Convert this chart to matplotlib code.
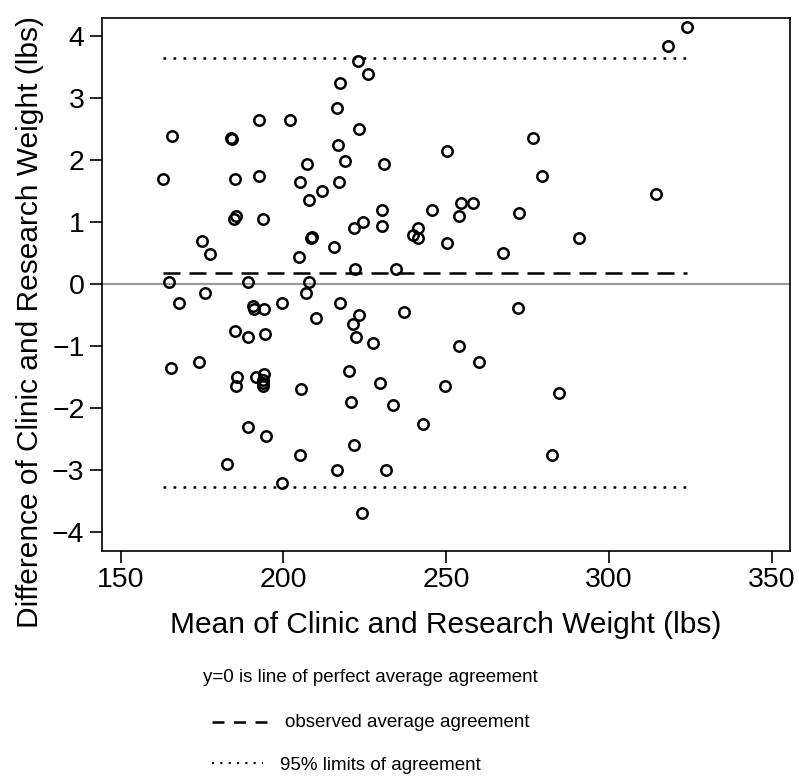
import matplotlib
matplotlib.use('Agg')
import matplotlib.pyplot as plt
from matplotlib.lines import Line2D
import numpy as np

plt.rcParams['font.family'] = ['Liberation Sans', 'DejaVu Sans']

# Mean of clinic and research weight (lbs)
mean_wt = [
    223.0, 226.0, 217.5, 216.5, 192.6, 202.1, 165.7, 183.9, 184.3, 223.2,
    216.8, 219.0, 207.2, 230.9, 250.2, 162.9, 185.1, 192.4, 205.1, 217.1,
    211.8, 207.9, 185.4, 184.8, 193.8, 230.4, 245.7, 230.4, 224.6, 221.8,
    239.8, 241.5, 241.5, 250.3, 175.0, 177.5, 208.6, 208.8, 215.6, 204.7,
    221.9, 234.7, 164.8, 189.1, 207.9, 324.0, 318.1, 276.8, 279.5, 314.6,
    254.5, 258.3, 253.8, 272.4, 290.7, 267.6,
    167.8, 175.8, 190.7, 191.0, 194.1, 199.7, 207.0, 217.3, 210.0, 223.2,
    221.3, 237.2, 185.2, 189.2, 194.3, 222.3, 227.5, 253.8, 165.6, 174.0,
    185.9, 185.3, 191.5, 194.1, 193.7, 193.7, 193.7, 205.5, 220.2, 229.7,
    220.8, 233.7, 249.6, 189.0, 194.7, 243.0, 182.7, 205.2, 221.8, 216.5,
    231.5, 199.5, 224.3, 272.2, 260.0, 284.8, 282.5,
]
# Difference of clinic and research weight (lbs)
diff_wt = [
    3.60, 3.39, 3.24, 2.84, 2.65, 2.65, 2.39, 2.35, 2.34, 2.50,
    2.24, 1.99, 1.94, 1.93, 2.15, 1.70, 1.70, 1.74, 1.65, 1.65,
    1.50, 1.35, 1.10, 1.05, 1.05, 1.20, 1.20, 0.94, 1.00, 0.90,
    0.79, 0.90, 0.74, 0.66, 0.70, 0.49, 0.74, 0.76, 0.59, 0.44,
    0.245, 0.245, 0.04, 0.04, 0.04, 4.14, 3.84, 2.35, 1.74, 1.45,
    1.30, 1.30, 1.10, 1.15, 0.74, 0.50,
    -0.30, -0.15, -0.35, -0.40, -0.40, -0.30, -0.15, -0.30, -0.55, -0.50,
    -0.65, -0.45, -0.75, -0.85, -0.80, -0.85, -0.95, -1.00, -1.35, -1.25,
    -1.50, -1.65, -1.50, -1.45, -1.55, -1.59, -1.65, -1.70, -1.40, -1.60,
    -1.90, -1.95, -1.65, -2.30, -2.45, -2.25, -2.90, -2.75, -2.60, -3.00,
    -3.00, -3.20, -3.69, -0.39, -1.25, -1.75, -2.75,
]

mean_diff = 0.185
upper_loa = 3.64
lower_loa = -3.27
line_x = [162.9, 324.0]

x_ticks = [150, 200, 250, 300, 350]
y_ticks = [-4, -3, -2, -1, 0, 1, 2, 3, 4]

fig = plt.figure(figsize=(7.99, 7.77), dpi=100)
ax = fig.add_axes([0.1273, 0.2912, 0.8614, 0.6852])

ax.axhline(0, color='#9a9a9a', lw=1.6, zorder=1)
ax.plot(line_x, [mean_diff, mean_diff], color='black', lw=1.8,
        linestyle=(0, (6.8, 3.6)))
ax.plot(line_x, [upper_loa, upper_loa], color='black', lw=1.8,
        linestyle=(0, (1.1, 2.9)))
ax.plot(line_x, [lower_loa, lower_loa], color='black', lw=1.8,
        linestyle=(0, (1.1, 2.9)))
ax.plot(mean_wt, diff_wt, 'o', mfc='none', mec='black', ms=7.5, mew=1.8)

ax.set_xlim(144.2, 355.6)
ax.set_ylim(-4.3, 4.285)
ax.set_xticks(x_ticks)
ax.set_yticks(y_ticks)
ax.set_yticklabels(['\u22124', '\u22123', '\u22122', '\u22121', '0', '1', '2', '3', '4'])
ax.tick_params(labelsize=20.5, length=8.4, width=1.2, pad=4)
ax.tick_params(axis='x', pad=3)
for s in ax.spines.values():
    s.set_linewidth(1.2)

ax.set_xlabel('Mean of Clinic and Research Weight (lbs)', fontsize=21.5, labelpad=13)
ax.set_ylabel('Difference of Clinic and Research Weight (lbs)', fontsize=21.5)
ax.yaxis.set_label_coords(-0.084, 0.43)

fig.text(0.254, 0.1226, 'y=0 is line of perfect average agreement', fontsize=13.5,
         va='baseline', ha='left')

# legend-style key below the plot
fig.add_artist(Line2D([212 / 799, 267 / 799], [0.0712, 0.0712], transform=fig.transFigure,
                      color='black', lw=1.8, linestyle=(0, (4.8, 3.8))))
fig.text(285 / 799, 0.0647, 'observed average agreement', fontsize=13.5, va='baseline')
fig.add_artist(Line2D([212 / 799, 263 / 799], [0.0176, 0.0176], transform=fig.transFigure,
                      color='black', lw=1.5, linestyle=(0, (1.0, 3.0))))
fig.text(280 / 799, 0.009, '95% limits of agreement', fontsize=13.5, va='baseline')

fig.savefig('out.png', dpi=100)
